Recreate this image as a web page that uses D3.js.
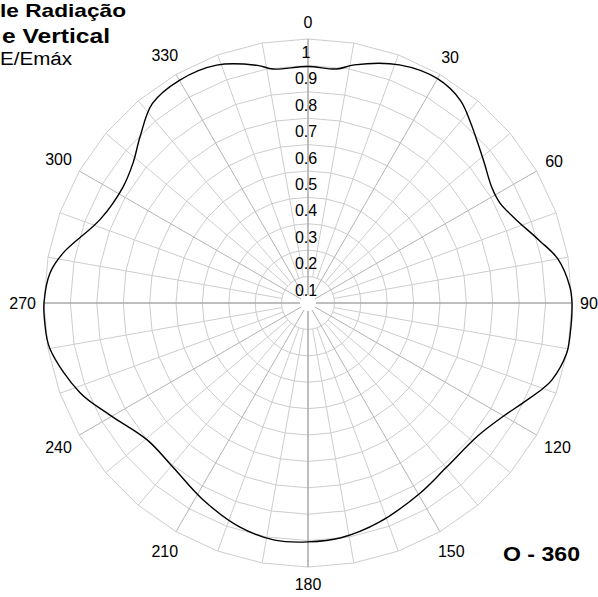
<!DOCTYPE html>
<html>
<head>
<meta charset="utf-8">
<script src="https://cdn.jsdelivr.net/npm/d3@7"></script>
<style>
  body { margin: 0; background: #fff; }
  svg { display: block; }
  text { font-family: "Liberation Sans", Arial, sans-serif; fill: #000; }
</style>
</head>
<body>
<div class="holder"></div>
<script>
var width = 598,
    height = 597,
    cx = 308,
    cy = 303,
    R = 264;

// pattern: angle (deg, clockwise from top) and E/Emax
var angles = [0, 7, 11, 21, 30, 37, 42, 44.5, 51, 58, 62.5, 68, 75, 80, 86.5, 90, 97, 101,
  107.5, 110, 115, 120, 128, 140, 149.5, 162, 172, 180, 188, 197, 208, 219.5, 229.6,
  240.5, 248.5, 260, 266, 270, 276.6, 281.5, 292, 302, 308.7, 314.7, 322, 330, 339, 348, 351.5];
var values = [0.896, 0.893, 0.919, 0.966, 0.981, 0.96, 0.92, 0.90, 0.856, 0.822, 0.82, 0.848,
  0.909, 0.961, 0.994, 1.0, 1.0, 0.998, 0.969, 0.947, 0.897, 0.856, 0.817, 0.814, 0.836,
  0.873, 0.898, 0.905, 0.907, 0.887, 0.845, 0.805, 0.80, 0.862, 0.928, 0.993, 1.0, 1.0,
  0.984, 0.947, 0.848, 0.827, 0.849, 0.895, 0.958, 0.974, 0.965, 0.92, 0.896];

var rings = [0.1, 0.2, 0.3, 0.4, 0.5, 0.6, 0.7, 0.8, 0.9, 1];
var ringLabels = ["0.1", "0.2", "0.3", "0.4", "0.5", "0.6", "0.7", "0.8", "0.9", "1"];
var angleTicks = [0, 30, 60, 90, 120, 150, 180, 210, 240, 270, 300, 330];
var spokes = d3.range(0, 360, 10);

var svg = d3.select(".holder").append("svg")
    .attr("width", width)
    .attr("height", height);

svg.append("rect").attr("width", width).attr("height", height).attr("fill", "#fff");

var rScale = d3.scaleLinear().domain([0, 1]).range([0, R]);
var rad = d3.scaleLinear().domain([0, 360]).range([0, 2 * Math.PI]);

var g = svg.append("g").attr("transform", "translate(" + cx + "," + cy + ")");

// rings drawn as polygons with a vertex on every spoke
var ringLine = d3.lineRadial()
    .angle(d => rad(d[0]))
    .radius(d => rScale(d[1]))
    .curve(d3.curveLinearClosed);

g.selectAll(".ring")
    .data(rings)
    .enter()
    .append("path")
    .attr("class", "ring")
    .attr("d", v => ringLine(spokes.map(a => [a, v])))
    .attr("fill", "none")
    .attr("stroke", "#cdcdcd")
    .attr("stroke-width", 1);

g.selectAll(".spoke")
    .data(spokes)
    .enter()
    .append("line")
    .attr("class", "spoke")
    .attr("x1", a => Math.sin(rad(a)) * rScale(a % 30 == 0 ? 0.03 : 0.1))
    .attr("y1", a => -Math.cos(rad(a)) * rScale(a % 30 == 0 ? 0.03 : 0.1))
    .attr("x2", a => Math.sin(rad(a)) * rScale(1))
    .attr("y2", a => -Math.cos(rad(a)) * rScale(1))
    .attr("stroke", a => a % 90 == 0 ? "#a8a8a8" : (a % 30 == 0 ? "#b4b4b4" : "#cdcdcd"))
    .attr("stroke-width", a => a % 90 == 0 ? 1.5 : 1);

// ring values along the vertical axis
g.selectAll(".rlab")
    .data(rings)
    .enter()
    .append("text")
    .attr("class", "rlab")
    .attr("x", -2)
    .attr("y", v => -rScale(v - 0.05))
    .attr("dy", "0.36em")
    .attr("text-anchor", "middle")
    .style("font-size", "16px")
    .text((v, i) => ringLabels[i]);

// angle labels
g.selectAll(".alab")
    .data(angleTicks)
    .enter()
    .append("text")
    .attr("class", "alab")
    .attr("text-anchor", "middle")
    .attr("dy", "0.36em")
    .style("font-size", "16px")
    .text(a => a)
    .each(function(a) {
        var w = this.getComputedTextLength();
        var r = R + 8 + w / 2 * Math.abs(Math.sin(rad(a))) + 9 * Math.abs(Math.cos(rad(a)));
        d3.select(this)
            .attr("x", Math.sin(rad(a)) * r)
            .attr("y", -Math.cos(rad(a)) * r);
    });

// the pattern
var patternLine = d3.lineRadial()
    .angle((d, i) => rad(angles[i]))
    .radius(d => rScale(d))
    .curve(d3.curveCatmullRomClosed);

g.append("path")
    .attr("d", patternLine(values))
    .attr("fill", "none")
    .attr("stroke", "#000")
    .attr("stroke-width", 1.4);

// title, cut at the left edge as in the original
svg.append("text").attr("x", 0).attr("y", 17)
    .attr("textLength", 126).attr("lengthAdjust", "spacingAndGlyphs")
    .style("font-size", "19px").style("font-weight", "bold").text("le Radiação");
svg.append("text").attr("x", 2).attr("y", 43)
    .attr("textLength", 108).attr("lengthAdjust", "spacingAndGlyphs")
    .style("font-size", "20px").style("font-weight", "bold").text("e Vertical");
svg.append("text").attr("x", 0).attr("y", 65)
    .attr("textLength", 72).attr("lengthAdjust", "spacingAndGlyphs")
    .style("font-size", "18px").text("E/Emáx");

svg.append("text").attr("x", 503).attr("y", 561)
    .attr("textLength", 77).attr("lengthAdjust", "spacingAndGlyphs")
    .style("font-size", "20px").style("font-weight", "bold").text("O - 360");
</script>
</body>
</html>
